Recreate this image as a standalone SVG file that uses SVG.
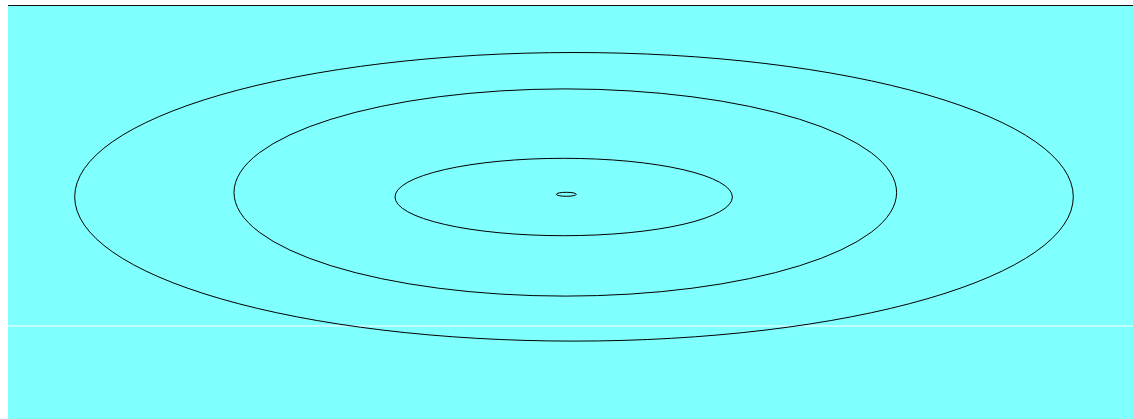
<svg xmlns="http://www.w3.org/2000/svg" width="1133" height="419" viewBox="0 0 1133 419">
<style>
.ring{fill:none;stroke:#000;stroke-width:1}
</style>
<rect x="0" y="0" width="1133" height="419" fill="#fff"/>
<rect x="8" y="5" width="1125" height="414" fill="#80ffff"/>
<line x1="8" y1="5.5" x2="1133" y2="5.5" stroke="#111" stroke-width="1.2"/>
<line x1="8" y1="326" x2="1133" y2="326" stroke="#fff" stroke-width="1"/>
<g id="ring-outer"><ellipse class="ring" cx="574" cy="196.8" rx="499.3" ry="144.3"/></g>
<g id="ring-second"><ellipse class="ring" cx="565.3" cy="192.5" rx="331.3" ry="103.6"/></g>
<g id="ring-third"><ellipse class="ring" cx="563.7" cy="197" rx="168.7" ry="38.7"/></g>
<g id="ring-center"><ellipse class="ring" cx="566.3" cy="194.3" rx="10" ry="2"/></g>
</svg>
